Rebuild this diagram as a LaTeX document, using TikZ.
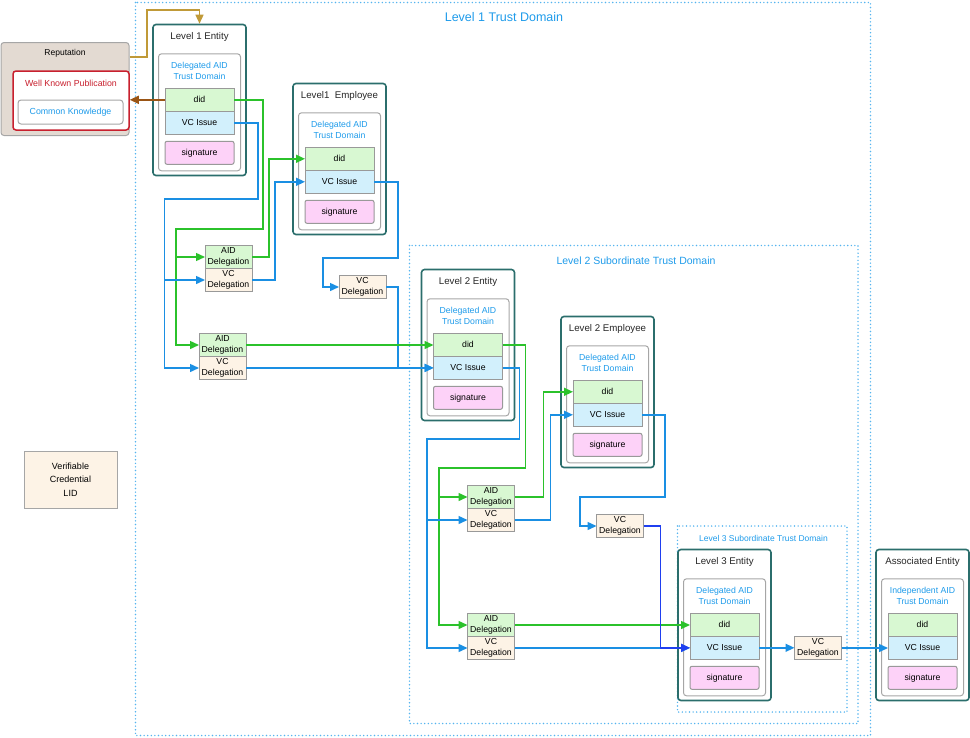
\documentclass[tikz,border=0pt]{standalone}
\usepackage{fontspec}
\setmainfont{Liberation Sans}
\usetikzlibrary{positioning,arrows.meta}

\definecolor{tdblue}{HTML}{1E9BEA}
\definecolor{linkblue}{HTML}{1A8FE3}
\definecolor{deepblue}{HTML}{1F3FF0}
\definecolor{aidgreen}{HTML}{2BC22B}
\definecolor{entteal}{HTML}{2B6E6C}
\definecolor{didfill}{HTML}{D8F8D2}
\definecolor{vcfill}{HTML}{D2F0FC}
\definecolor{sigfill}{HTML}{FDD2F8}
\definecolor{credfill}{HTML}{FDF3E6}
\definecolor{repfill}{HTML}{E3DAD2}
\definecolor{pubred}{HTML}{C8202E}
\definecolor{repgold}{HTML}{C09A38}
\definecolor{didbrown}{HTML}{9A5515}

\begin{document}
\begin{tikzpicture}[x=1pt,y=-1pt,>={Triangle[length=9pt,width=8pt]},
  tdframe/.style={draw=tdblue!75,line width=1.6pt,dash pattern=on 0pt off 3.6pt,line cap=round},
  entity/.style={draw=entteal,line width=1.6pt,rounded corners=3pt,minimum width=93pt,minimum height=151pt,inner sep=0pt},
  enttitle/.style={font=\fontsize{9.7}{11}\selectfont,text=black!85,inner sep=0pt},
  aidbox/.style={draw=black!35,line width=1pt,rounded corners=3pt,minimum width=82pt,minimum height=117pt,inner sep=0pt},
  tdtext/.style={align=center,text=tdblue,font=\fontsize{8.7}{11}\selectfont,inner sep=0pt},
  field/.style={draw=black!40,line width=1pt,minimum width=69pt,minimum height=23pt,inner sep=0pt,outer sep=0pt,font=\fontsize{8.7}{10}\selectfont},
  did/.style={field,fill=didfill},
  vcissue/.style={field,fill=vcfill},
  sig/.style={field,fill=sigfill,rounded corners=2pt},
  deleg/.style={draw=black!40,line width=1pt,minimum width=47pt,minimum height=23pt,inner sep=0pt,outer sep=0pt,align=center,font=\fontsize{8.7}{10.5}\selectfont},
  aiddel/.style={deleg,fill=didfill},
  vcdel/.style={deleg,fill=credfill},
  gline/.style={draw=aidgreen,line width=1.4pt},
  bline/.style={draw=linkblue,line width=1.4pt},
  dline/.style={draw=deepblue,line width=1.4pt}]

\useasboundingbox (0,0) rectangle (970,737);

\draw[tdframe] (135.5,2.5) rectangle (870.5,735.5);
\draw[tdframe] (409.5,245.5) rectangle (858,723.5);
\draw[tdframe] (677.5,526) rectangle (847,712);
\node[text=tdblue,font=\fontsize{12.5}{14}\selectfont] (l1tdt) at (504,17) {Level 1 Trust Domain};
\node[text=tdblue,font=\fontsize{10.5}{12}\selectfont] (l2tdt) at (636,261) {Level 2 Subordinate Trust Domain};
\node[text=tdblue,font=\fontsize{8.5}{10}\selectfont] (l3tdt) at (763.5,538) {Level 3 Subordinate Trust Domain};

\node[draw=black!35,fill=repfill,line width=1pt,rounded corners=3pt,minimum width=128pt,minimum height=93pt] (rep) at (65,89) {};
\node[font=\fontsize{8.5}{10}\selectfont,inner sep=0pt] (rept) at ([yshift=-11pt]rep.north) {Reputation};
\node[draw=pubred,fill=white,line width=1.5pt,rounded corners=3pt,minimum width=116pt,minimum height=59pt] (wkp) at (71,100.5) {};
\node[text=pubred,font=\fontsize{8.8}{10}\selectfont,inner sep=0pt] (wkpt) at ([yshift=-13.5pt]wkp.north) {Well Known Publication};
\node[draw=black!35,line width=1pt,rounded corners=3pt,minimum width=105pt,minimum height=24pt,text=tdblue,font=\fontsize{8.8}{10}\selectfont] (ck) at (70.5,112) {Common Knowledge};

\node[draw=black!35,fill=credfill,line width=1pt,minimum width=93pt,minimum height=57pt,align=center,font=\fontsize{9}{13.5}\selectfont] (lid) at (70.5,479.5) {Verifiable\\Credential\\LID};

\node[entity] (l1ent) at (199.5,100) {};
\node[enttitle] (l1entt) at ([yshift=-13pt]l1ent.north) {Level 1 Entity};
\node[aidbox] (l1entin)[above=5pt of l1ent.south] {};
\node[tdtext] (l1enttd) at ([yshift=-17.5pt]l1entin.north) {Delegated AID\\Trust Domain};
\node[did] (l1entdid)[below=35pt of l1entin.north] {did};
\node[vcissue] (l1entvc)[below=0pt of l1entdid] {VC Issue};
\node[sig] (l1entsig)[below=7pt of l1entvc] {signature};

\node[entity] (l1emp) at (339.5,159) {};
\node[enttitle] (l1empt) at ([yshift=-13pt]l1emp.north) {Level1\ \ Employee};
\node[aidbox] (l1empin)[above=5pt of l1emp.south] {};
\node[tdtext] (l1emptd) at ([yshift=-17.5pt]l1empin.north) {Delegated AID\\Trust Domain};
\node[did] (l1empdid)[below=35pt of l1empin.north] {did};
\node[vcissue] (l1empvc)[below=0pt of l1empdid] {VC Issue};
\node[sig] (l1empsig)[below=7pt of l1empvc] {signature};

\node[entity] (l2ent) at (468,345) {};
\node[enttitle] (l2entt) at ([yshift=-13pt]l2ent.north) {Level 2 Entity};
\node[aidbox] (l2entin)[above=5pt of l2ent.south] {};
\node[tdtext] (l2enttd) at ([yshift=-17.5pt]l2entin.north) {Delegated AID\\Trust Domain};
\node[did] (l2entdid)[below=35pt of l2entin.north] {did};
\node[vcissue] (l2entvc)[below=0pt of l2entdid] {VC Issue};
\node[sig] (l2entsig)[below=7pt of l2entvc] {signature};

\node[entity] (l2emp) at (607.5,392) {};
\node[enttitle] (l2empt) at ([yshift=-13pt]l2emp.north) {Level 2 Employee};
\node[aidbox] (l2empin)[above=5pt of l2emp.south] {};
\node[tdtext] (l2emptd) at ([yshift=-17.5pt]l2empin.north) {Delegated AID\\Trust Domain};
\node[did] (l2empdid)[below=35pt of l2empin.north] {did};
\node[vcissue] (l2empvc)[below=0pt of l2empdid] {VC Issue};
\node[sig] (l2empsig)[below=7pt of l2empvc] {signature};

\node[entity] (l3ent) at (724.5,625) {};
\node[enttitle] (l3entt) at ([yshift=-13pt]l3ent.north) {Level 3 Entity};
\node[aidbox] (l3entin)[above=5pt of l3ent.south] {};
\node[tdtext] (l3enttd) at ([yshift=-17.5pt]l3entin.north) {Delegated AID\\Trust Domain};
\node[did] (l3entdid)[below=35pt of l3entin.north] {did};
\node[vcissue] (l3entvc)[below=0pt of l3entdid] {VC Issue};
\node[sig] (l3entsig)[below=7pt of l3entvc] {signature};

\node[entity] (asent) at (922.5,625) {};
\node[enttitle] (asentt) at ([yshift=-13pt]asent.north) {Associated Entity};
\node[aidbox] (asentin)[above=5pt of asent.south] {};
\node[tdtext] (asenttd) at ([yshift=-17.5pt]asentin.north) {Independent AID\\Trust Domain};
\node[did] (asentdid)[below=35pt of asentin.north] {did};
\node[vcissue] (asentvc)[below=0pt of asentdid] {VC Issue};
\node[sig] (asentsig)[below=7pt of asentvc] {signature};

\node[aiddel] (a1aid) at (228.5,257) {AID\\Delegation};
\node[vcdel] (a1vc)[below=0pt of a1aid] {VC\\Delegation};
\node[aiddel] (a2aid) at (222.5,345) {AID\\Delegation};
\node[vcdel] (a2vc)[below=0pt of a2aid] {VC\\Delegation};
\node[aiddel] (b1aid) at (491,497) {AID\\Delegation};
\node[vcdel] (b1vc)[below=0pt of b1aid] {VC\\Delegation};
\node[aiddel] (b2aid) at (491,625) {AID\\Delegation};
\node[vcdel] (b2vc)[below=0pt of b2aid] {VC\\Delegation};
\node[vcdel] (dvc1) at (362.5,287) {VC\\Delegation};
\node[vcdel] (dvc2) at (620,526) {VC\\Delegation};
\node[vcdel] (dvc3) at (818,648) {VC\\Delegation};

\coordinate (rt) at (147,10);
\coordinate (gj1) at (176,229);
\coordinate (bj1) at (164.5,199);
\coordinate (bj2) at (323,258);
\coordinate (gj2) at (439,468);
\coordinate (bj3) at (427,439);
\coordinate (bj4) at (580,497);

\draw[draw=repgold,line width=1.4pt,->] ([yshift=32pt]rep.east) -| (rt) -| (l1ent.north);
\draw[draw=didbrown,line width=1.4pt,->] (l1entdid.west) -- (l1entdid.west -| wkp.east);

\draw[gline,->] (l1entdid.east) -- ++(29,0) |- (gj1) |- (a1aid.west);
\draw[gline,->] (gj1) |- (a2aid.west);
\draw[bline,->] (l1entvc.east) -- ++(24,0) |- (bj1) |- (a1vc.west);
\draw[bline,->] (bj1) |- (a2vc.west);
\draw[gline,->] (a1aid.east) -- ++(17,0) |- (l1empdid.west);
\draw[bline,->] (a1vc.east) -- ++(23,0) |- (l1empvc.west);
\draw[bline,->] (l1empvc.east) -- ++(24,0) |- (bj2) |- (dvc1.west);
\draw[bline,->] (dvc1.east) -- ++(12,0) |- (l2entvc.west);
\draw[gline,->] (a2aid.east) -- (a2aid.east -| l2entdid.west);
\draw[bline,->] (a2vc.east) -- (a2vc.east -| l2entvc.west);

\draw[gline,->] (l2entdid.east) -- ++(23,0) |- (gj2) |- (b1aid.west);
\draw[gline,->] (gj2) |- (b2aid.west);
\draw[bline,->] (l2entvc.east) -- ++(17,0) |- (bj3) |- (b1vc.west);
\draw[bline,->] (bj3) |- (b2vc.west);
\draw[gline,->] (b1aid.east) -- ++(29,0) |- (l2empdid.west);
\draw[bline,->] (b1vc.east) -- ++(36,0) |- (l2empvc.west);
\draw[bline,->] (l2empvc.east) -- ++(23,0) |- (bj4) |- (dvc2.west);
\draw[gline,->] (b2aid.east) -- (b2aid.east -| l3entdid.west);
\draw[bline,->] (b2vc.east) -- (b2vc.east -| l3entvc.west);
\draw[dline,->] (dvc2.east) -- ++(17,0) |- (l3entvc.west);

\draw[bline,->] (l3entvc.east) -- (l3entvc.east -| dvc3.west);
\draw[bline,->] (dvc3.east) -- (dvc3.east -| asentvc.west);
\end{tikzpicture}
\end{document}
